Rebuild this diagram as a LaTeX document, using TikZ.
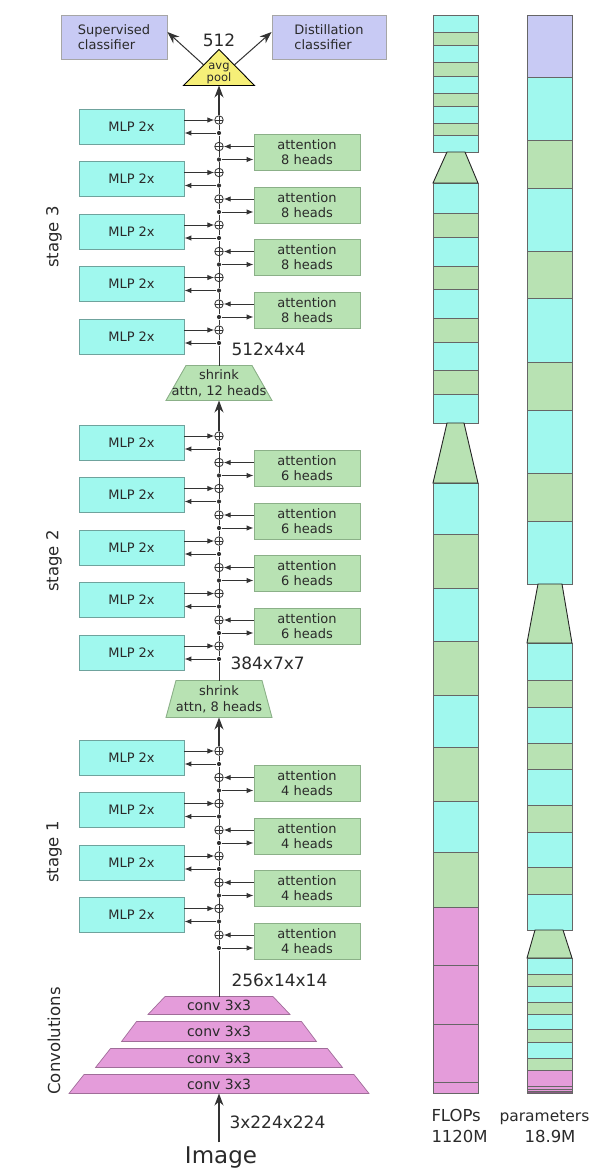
\documentclass[tikz,border=0pt]{standalone}
\usepackage{fontspec}
\setmainfont{DejaVu Sans}
\usetikzlibrary{arrows.meta, backgrounds, calc}
\definecolor{mlp-cyan}{HTML}{A0F8EE}
\definecolor{attn-green}{HTML}{B8E2B3}
\definecolor{head-lilac}{HTML}{C8CAF4}
\definecolor{conv-pink}{HTML}{E49CDA}
\definecolor{pool-yellow}{HTML}{F6EF78}
\definecolor{wire-gray}{HTML}{333333}
\definecolor{mlp-edge}{HTML}{6FA39D}
\definecolor{attn-edge}{HTML}{8BB088}
\definecolor{text-gray}{HTML}{2A2A2A}

\begin{document}
\begin{tikzpicture}[x=1pt, y=-1pt, line width=1pt, wire-gray,
    every node/.style={font=\fontsize{13}{15}\selectfont, text=text-gray},
    mlp-box/.style={draw=mlp-edge, line width=0.9pt, fill=mlp-cyan, minimum width=105pt, minimum height=35pt, inner sep=0},
    attn-box/.style={draw=attn-edge, line width=0.9pt, fill=attn-green, minimum width=106pt, minimum height=36pt, inner sep=0, align=center},
    head-box/.style={draw=gray!70, line width=0.9pt, fill=head-lilac, minimum height=44pt, inner sep=0, align=left},
    shrink-box/.style={minimum width=105pt, minimum height=34pt, inner sep=0, align=center, font=\fontsize{13}{16}\selectfont},
    conv-box/.style={inner sep=0, font=\fontsize{14}{14}\selectfont},
    add-node/.style={circle, draw=wire-gray, fill=white, line width=0.8pt, minimum size=8.5pt, inner sep=0,
      path picture={\draw[line width=0.6pt] (path picture bounding box.north) -- (path picture bounding box.south)
        (path picture bounding box.west) -- (path picture bounding box.east);}},
    fork-node/.style={circle, fill=wire-gray, minimum size=4.2pt, inner sep=0},
    size-label/.style={font=\fontsize{17}{17}\selectfont, anchor=west, inner sep=0},
    stage-label/.style={font=\fontsize{16.5}{16.5}\selectfont, rotate=90, inner sep=0},
    bar-label/.style={font=\fontsize{16.5}{16.5}\selectfont, anchor=base west, inner sep=0},
    small-arrow/.style={-{Latex[length=7pt, width=5.5pt]}},
    big-arrow/.style={line width=1.3pt, -{Stealth[length=12pt, width=9pt]}},
    bar-seg/.style={draw=black!60, line width=0.9pt}]
  \useasboundingbox (0,0) rectangle (595,1168);

  % head
  \node[minimum width=70pt, minimum height=35pt, inner sep=0] (pool) at (219,67.5) {};
  \node[anchor=south, inner sep=1pt, align=center, font=\fontsize{11.5}{11}\selectfont] (pool-text) at (pool.south) {avg\\pool};
  \node[size-label, anchor=center] (size-out) at (219,40) {512};
  \node[head-box, minimum width=106pt] (sup) at (114,37) {Supervised\\classifier};
  \node[head-box, minimum width=114pt] (dist) at (329,37) {Distillation\\classifier};
  \draw[big-arrow, line width=1pt] ($(pool.north)!0.43!(pool.south west)$) -- ([yshift=5pt]sup.east);
  \draw[big-arrow, line width=1pt] ($(pool.north)!0.43!(pool.south east)$) -- ([yshift=5pt]dist.west);

  % stages
  \foreach \s/\top/\nm/\heads in {3/109/5/8, 2/425/5/6, 1/740/4/4} {
    \foreach \i in {1,...,\nm} {
      \pgfmathsetmacro\t{\top+52.5*(\i-1)}
      \node[mlp-box] (mlp-\s-\i) at (131.5,\t+17.5) {MLP 2x};
      \node[add-node] (mlp-\s-\i-add) at (219,\t+11) {};
      \node[fork-node] (mlp-\s-\i-fork) at (219,\t+24) {};
      \draw[small-arrow] (mlp-\s-\i.east |- mlp-\s-\i-add) -- (mlp-\s-\i-add);
      \draw[small-arrow] (mlp-\s-\i-fork) -- (mlp-\s-\i-fork -| mlp-\s-\i.east);
      \draw (mlp-\s-\i-fork) -- (mlp-\s-\i-add);
    }
    \foreach \i in {1,...,4} {
      \pgfmathsetmacro\t{\top+25.5+52.5*(\i-1)}
      \pgfmathtruncatemacro\j{\i+1}
      \node[attn-box] (attn-\s-\i) at (307,\t+18) {attention\\\heads{} heads};
      \node[add-node] (attn-\s-\i-add) at (219,\t+12) {};
      \node[fork-node] (attn-\s-\i-fork) at (219,\t+25) {};
      \draw[small-arrow] (attn-\s-\i.west |- attn-\s-\i-add) -- (attn-\s-\i-add);
      \draw[small-arrow] (attn-\s-\i-fork) -- (attn-\s-\i-fork -| attn-\s-\i.west);
      \draw (attn-\s-\i-fork) -- (attn-\s-\i-add) -- (mlp-\s-\i-fork);
      \ifnum\j>\nm\else \draw (mlp-\s-\j-add) -- (attn-\s-\i-fork); \fi
    }
  }
  \foreach \s/\y in {3/237, 2/561, 1/852}
    \node[stage-label] (stage-\s) at (54,\y) {stage \s};
  \node[stage-label] (stage-conv) at (54,1041) {Convolutions};

  \node[shrink-box] (shrink-3) at (219,383) {shrink\\attn, 12 heads};
  \node[shrink-box, minimum height=36pt] (shrink-2) at (219,699) {shrink\\attn, 8 heads};
  \node[size-label] (size-3) at (231,349) {512x4x4};
  \node[size-label] (size-2) at (230,663) {384x7x7};
  \node[size-label] (size-1) at (231,980) {256x14x14};
  \node[size-label] (size-in) at (229,1122) {3x224x224};

  \foreach \k/\y/\w/\h in {1/1005.5/141/17, 2/1031.5/194/19, 3/1058/246/18, 4/1084/299/18}
    \node[conv-box, minimum width=\w pt, minimum height=\h pt] (conv-\k) at (219,\y) {conv 3x3};
  \node[font=\fontsize{23}{23}\selectfont, anchor=base] (image) at (221,1163) {Image};

  % spine
  \draw[big-arrow] (mlp-3-1-add) -- (pool.south);
  \draw (shrink-3.north) -- (mlp-3-5-fork);
  \draw[big-arrow] (mlp-2-1-add) -- (shrink-3.south);
  \draw (shrink-2.north) -- (mlp-2-5-fork);
  \draw[big-arrow] (mlp-1-1-add) -- (shrink-2.south);
  \draw (conv-1.north) -- (attn-1-4-fork);
  \draw[big-arrow] (image.north -| conv-4.south) -- (conv-4.south);

  \begin{scope}[on background layer]
    \draw[fill=pool-yellow, line width=0.9pt] (pool.south west) -- (pool.north) -- (pool.south east) -- cycle;
    \foreach \n/\d in {shrink-3/20, shrink-2/10}
      \draw[fill=attn-green, draw=attn-edge, line width=0.9pt] (\n.south west) -- (\n.south east)
        -- ([xshift=-\d pt]\n.north east) -- ([xshift=\d pt]\n.north west) -- cycle;
    \foreach \k/\d in {1/17, 2/15, 3/15, 4/15}
      \draw[fill=conv-pink, draw=conv-pink!70!black, line width=0.7pt] (conv-\k.south west) -- (conv-\k.south east)
        -- ([xshift=-\d pt]conv-\k.north east) -- ([xshift=\d pt]conv-\k.north west) -- cycle;
  \end{scope}

  % FLOPs bar
  \foreach \ya/\yb/\c in {15/32/mlp-cyan, 32/45/attn-green, 45/62/mlp-cyan, 62/76/attn-green, 76/93/mlp-cyan,
      93/106/attn-green, 106/123/mlp-cyan, 123/135/attn-green, 135/152/mlp-cyan,
      183/213/mlp-cyan, 213/237/attn-green, 237/266/mlp-cyan, 266/289/attn-green, 289/318/mlp-cyan,
      318/342/attn-green, 342/370/mlp-cyan, 370/394/attn-green, 394/423/mlp-cyan,
      483/534/mlp-cyan, 534/588/attn-green, 588/641/mlp-cyan, 641/695/attn-green, 695/747/mlp-cyan,
      747/801/attn-green, 801/852/mlp-cyan, 852/907/attn-green,
      907/965/conv-pink, 965/1024/conv-pink, 1024/1082/conv-pink, 1082/1093/conv-pink}
    \draw[bar-seg, fill=\c] (433,\ya) rectangle (478,\yb);
  \draw[bar-seg, draw=black!85, fill=attn-green] (433,183) -- (447,152) -- (465,152) -- (478,183) -- cycle;
  \draw[bar-seg, draw=black!85, fill=attn-green] (433,483) -- (447,423) -- (464,423) -- (478,483) -- cycle;

  % parameters bar
  \foreach \ya/\yb/\c in {15/77/head-lilac, 77/140/mlp-cyan, 140/188/attn-green, 188/251/mlp-cyan, 251/298/attn-green,
      298/362/mlp-cyan, 362/410/attn-green, 410/473/mlp-cyan, 473/521/attn-green, 521/584/mlp-cyan,
      643/680/mlp-cyan, 680/707/attn-green, 707/743/mlp-cyan, 743/769/attn-green, 769/805/mlp-cyan,
      805/832/attn-green, 832/867/mlp-cyan, 867/894/attn-green, 894/930/mlp-cyan,
      958/974/mlp-cyan, 974/986/attn-green, 986/1002/mlp-cyan, 1002/1014/attn-green, 1014/1029/mlp-cyan,
      1029/1042/attn-green, 1042/1058/mlp-cyan, 1058/1070/attn-green,
      1070/1086/conv-pink, 1086/1089/conv-pink, 1089/1091/conv-pink, 1091/1093/conv-pink!60!black}
    \draw[bar-seg, fill=\c] (527,\ya) rectangle (572,\yb);
  \draw[bar-seg, draw=black!85, fill=attn-green] (527,643) -- (538,584) -- (562,584) -- (572,643) -- cycle;
  \draw[bar-seg, draw=black!85, fill=attn-green] (527,958) -- (535,930) -- (563,930) -- (572,958) -- cycle;

  \node[bar-label] (flops) at (431,1121) {FLOPs};
  \node[bar-label] (flops-val) at (431,1142) {1120M};
  \node[bar-label, font=\fontsize{15.5}{15.5}\selectfont] (params) at (499,1121) {parameters};
  \node[bar-label, anchor=base] (params-val) at (550,1142) {18.9M};
\end{tikzpicture}
\end{document}
